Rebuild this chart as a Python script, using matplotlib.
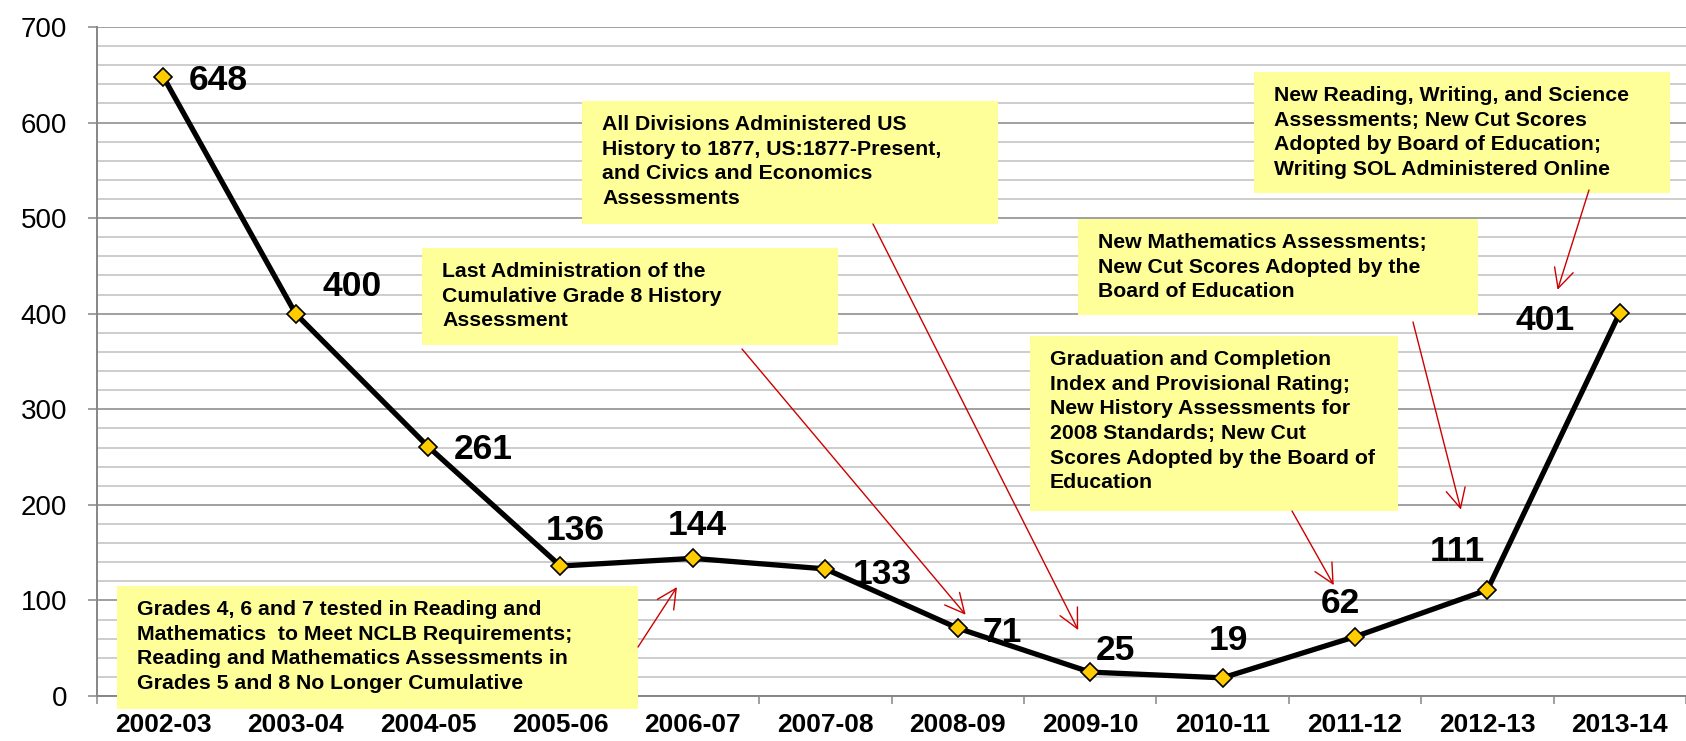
"""Number of accredited-with-warning schools by year, with annotated policy changes."""
import matplotlib

matplotlib.use("Agg")
import matplotlib.pyplot as plt
from matplotlib.patches import Rectangle
import numpy as np

years = ["2002-03", "2003-04", "2004-05", "2005-06", "2006-07", "2007-08",
         "2008-09", "2009-10", "2010-11", "2011-12", "2012-13", "2013-14"]
counts = [648, 400, 261, 136, 144, 133, 71, 25, 19, 62, 111, 401]

# value label placement: offset of the label centre from the marker, in pixels
label_dx = [26, 27, 26, 15, 5, 27, 25, 6, 6, -15, -30, -45]
label_dy = [-1, 30, 0, 39, 36, -2, -1, 25, 41, 36, 42, -5]
label_ha = ["left", "left", "left", "center", "center", "left",
            "left", "left", "center", "center", "center", "right"]

note_texts = [
    "Grades 4, 6 and 7 tested in Reading and\nMathematics  to Meet NCLB Requirements;\n"
    "Reading and Mathematics Assessments in\nGrades 5 and 8 No Longer Cumulative",
    "Last Administration of the\nCumulative Grade 8 History\nAssessment",
    "All Divisions Administered US\nHistory to 1877, US:1877-Present,\n"
    "and Civics and Economics\nAssessments",
    "New Reading, Writing, and Science\nAssessments; New Cut Scores\n"
    "Adopted by Board of Education;\nWriting SOL Administered Online",
    "New Mathematics Assessments;\nNew Cut Scores Adopted by the\nBoard of Education",
    "Graduation and Completion\nIndex and Provisional Rating;\nNew History Assessments for\n"
    "2008 Standards; New Cut\nScores Adopted by the Board of\nEducation",
]
# box rectangles in pixels (left, top, right, bottom), measured from top-left
note_boxes = [(117, 586, 638, 709), (422, 248, 838, 345), (582, 101, 998, 224),
              (1254, 72, 1670, 193), (1078, 219, 1478, 315), (1030, 336, 1398, 511)]
# arrow tails (pixels) and arrow tips (data coordinates)
arrow_tails = [(638, 647), (742, 349), (873, 224), (1589, 190), (1413, 322), (1292, 511)]
arrow_tips = [(3.88, 114), (6.06, 85), (6.91, 69), (10.53, 425), (9.80, 195), (8.84, 116)]

W, H = 1686, 741
FONT = ["Liberation Sans", "DejaVu Sans"]


def fx(px):
    return px / W


def fy(py):
    return 1 - py / H


def main() -> None:
    plt.rcParams["font.family"] = FONT
    fig = plt.figure(figsize=(W / 100, H / 100), dpi=100)
    ax = fig.add_axes([fx(97), fy(696), fx(W - 97), 669 / H])

    x = np.arange(len(years))
    ax.set_xlim(-0.5, len(years) - 0.5)
    ax.set_ylim(0, 700)

    ax.set_yticks(np.arange(0, 701, 100))
    ax.set_yticks(np.arange(0, 701, 20), minor=True)
    ax.tick_params(axis="y", which="major", labelsize=20, length=6.5, width=1.1,
                   color="#868686", pad=15)
    ax.tick_params(axis="y", which="minor", length=0)
    ax.grid(axis="y", which="major", color="#868686", linewidth=1.1)
    ax.grid(axis="y", which="minor", color="#c0c0c0", linewidth=1.1)

    ax.set_xticks(x, years, fontweight="bold")
    ax.set_xticks(np.arange(-0.5, len(years)), minor=True)
    ax.tick_params(axis="x", which="major", length=0, labelsize=19, pad=12)
    ax.tick_params(axis="x", which="minor", length=5.5, width=1.1, color="#868686")

    for side in ("top", "right"):
        ax.spines[side].set_visible(False)
    for side in ("left", "bottom"):
        ax.spines[side].set_color("#868686")
        ax.spines[side].set_linewidth(1.4)

    ax.plot(x, counts, color="black", linewidth=3.8, marker="D", markersize=9.5,
            markerfacecolor="#FFCC00", markeredgecolor="black", markeredgewidth=1.2,
            zorder=4, clip_on=False)

    for i, v in enumerate(counts):
        ax.annotate(str(v), xy=(i, v), xytext=(label_dx[i], label_dy[i] - 12.7),
                    textcoords="offset pixels", ha=label_ha[i], va="baseline",
                    fontsize=25.5, fontweight="bold", zorder=5)

    for text, (l, t, r, b), tail, tip in zip(note_texts, note_boxes, arrow_tails, arrow_tips):
        ax.add_patch(Rectangle((fx(l), fy(b)), fx(r - l), (b - t) / H,
                               transform=fig.transFigure, facecolor="#FFFF99",
                               edgecolor="none", zorder=3, clip_on=False))
        ax.text(fx(l + 20), fy(t + 14), text, transform=fig.transFigure,
                ha="left", va="top", fontsize=15.3, fontweight="bold",
                linespacing=1.38, zorder=3.1)
        ax.annotate("", xy=tip, xycoords="data",
                    xytext=(fx(tail[0]), fy(tail[1])), textcoords="figure fraction",
                    arrowprops=dict(arrowstyle="->,head_length=0.7,head_width=0.35",
                                    color="#CC0000", linewidth=1.0,
                                    mutation_scale=20, shrinkA=0, shrinkB=0),
                    zorder=5)

    fig.savefig("out.png", dpi=100)


if __name__ == "__main__":
    main()
